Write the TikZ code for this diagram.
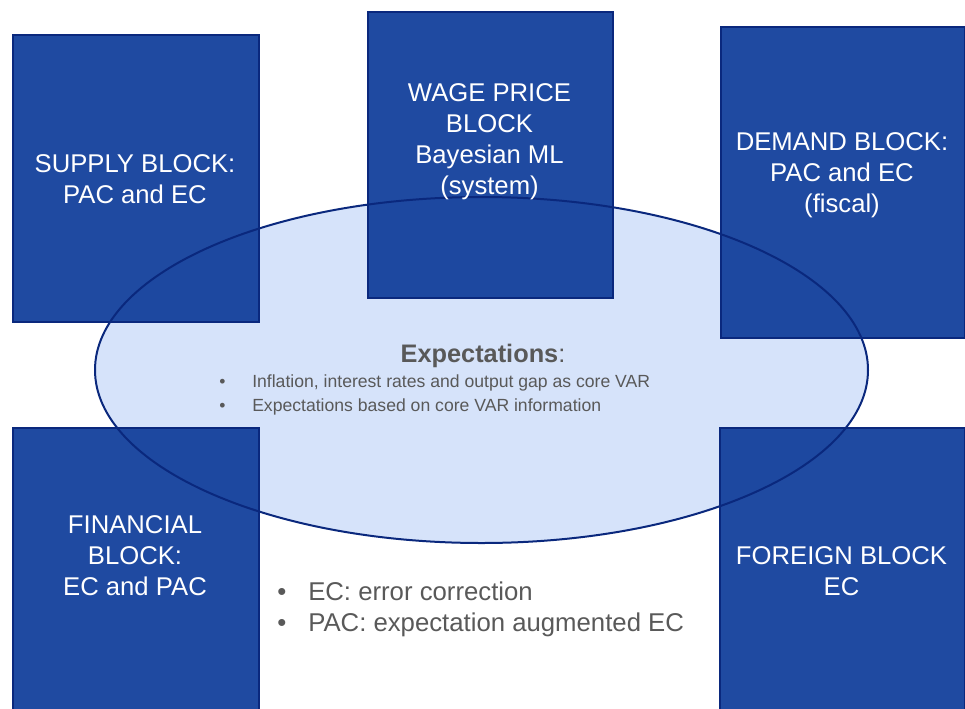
\documentclass[tikz,border=0pt]{standalone}
\usepackage{fontspec}
\setmainfont{Liberation Sans}
\usetikzlibrary{positioning,shapes.geometric}

\definecolor{blockfill}{RGB}{24,68,158}
\definecolor{blockline}{RGB}{10,40,125}
\definecolor{ellfill}{RGB}{214,227,250}
\definecolor{txtgray}{RGB}{89,89,89}

\tikzset{
  blockbox/.style={draw=blockline, line width=1.5, fill=blockfill, fill opacity=0.97, inner sep=0pt, anchor=north west},
  blocktext/.style={text=white, align=center, inner sep=0pt, font=\fontsize{19.25}{23.25}\selectfont},
  notetext/.style={text=txtgray, inner sep=0pt, anchor=base west, font=\fontsize{13.2}{18}\selectfont},
  legtext/.style={text=txtgray, inner sep=0pt, anchor=base west, font=\fontsize{19.3}{23.25}\selectfont}
}

\begin{document}
\begin{tikzpicture}[x=0.75pt,y=0.75pt,yscale=-1,xscale=1]
    \useasboundingbox (0,0) rectangle (965,708);
    \begin{scope}
    \clip (0,0) rectangle (965,708);

    % Expectations ellipse (fill)
    \node [fill=ellfill, ellipse, inner sep=0pt,
           minimum width=773*0.75pt, minimum height=346*0.75pt] (expect) at (481.5,370) {};

    % Blocks
    \node [blockbox, minimum width=246*0.75pt, minimum height=287*0.75pt] (supply) at (12,34) {};
    \node [blockbox, minimum width=245*0.75pt, minimum height=286*0.75pt] (wage) at (367,10.5) {};
    \node [blockbox, minimum width=244*0.75pt, minimum height=311*0.75pt] (demand) at (720,26) {};
    \node [blockbox, minimum width=246*0.75pt, minimum height=300*0.75pt] (financial) at (12,427) {};
    \node [blockbox, minimum width=245*0.75pt, minimum height=300*0.75pt] (foreign) at (719,427) {};

    % Expectations ellipse (outline)
    \draw [blockline, line width=1.5] (expect.center) ellipse [x radius=386.5, y radius=173];
    \end{scope}

    % Block texts
    \node [blocktext] (supplytext) at (135,179) {SUPPLY BLOCK:\\PAC and EC};
    \node [blocktext] (wagetext) at (489.5,142) {WAGE PRICE\\BLOCK\\Bayesian ML\\(system)};
    \node [blocktext] (demandtext) at (842,175) {DEMAND BLOCK:\\PAC and EC\\(fiscal)};
    \node [blocktext] (financialtext) at (135,556) {FINANCIAL\\BLOCK:\\EC and PAC};
    \node [blocktext] (foreigntext) at (841.5,571) {FOREIGN BLOCK\\EC};

    % Expectations text
    \node [text=txtgray, inner sep=0pt, anchor=base, font=\fontsize{19}{20}\selectfont] (expecttitle) at (483,362) {\textbf{Expectations}:};
    \node [notetext] (bulleta) at (219,387) {\makebox[24.75pt][l]{\textbullet}Inflation, interest rates and output gap as core VAR};
    \node [notetext] (bulletb) at (219,411) {\makebox[24.75pt][l]{\textbullet}Expectations based on core VAR information};

    % Legend
    \node [legtext] (legec) at (277,600) {\makebox[23.25pt][l]{\textbullet}EC: error correction};
    \node [legtext] (legpac) at (277,631) {\makebox[23.25pt][l]{\textbullet}PAC: expectation augmented EC};
\end{tikzpicture}
\end{document}
